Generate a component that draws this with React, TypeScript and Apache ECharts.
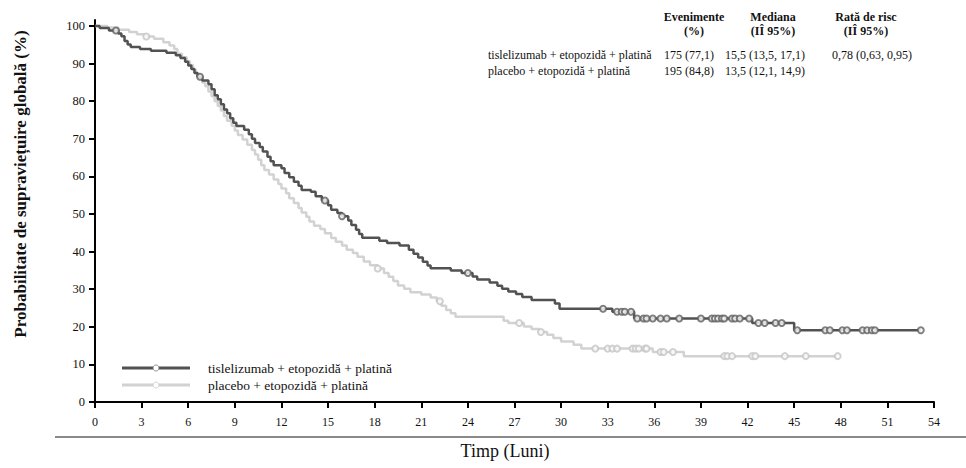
import React, { useEffect, useRef } from "react";
import * as echarts from "echarts";

// Kaplan-Meier step points: time in months, overall survival probability in %
const tisTime = [0, 0.3, 0.9, 1.5, 1.7, 1.9, 2.1, 2.3, 2.9, 3.6, 4.6, 5.2, 5.5, 5.8, 6.0, 6.2, 6.4, 6.6, 6.9, 7.3, 7.5, 7.7, 7.9, 8.1, 8.3, 8.5, 8.7, 8.9, 9.1, 9.6, 9.9, 10.1, 10.3, 10.6, 10.8, 11.1, 11.3, 11.5, 12.0, 12.2, 12.5, 12.8, 13.1, 13.3, 13.9, 14.2, 14.6, 15.0, 15.2, 15.6, 15.9, 16.3, 16.5, 16.8, 17.0, 17.2, 18.3, 18.8, 19.6, 20.2, 20.5, 20.8, 21.1, 21.4, 21.6, 22.9, 23.6, 24.3, 24.6, 25.4, 25.9, 26.2, 26.6, 27.1, 27.5, 28.1, 29.6, 29.9, 33.3, 34.7, 42.3, 45.0];
const tisSurv = [100, 99.5, 98.8, 98.0, 97.3, 96.0, 95.1, 94.4, 93.9, 93.4, 92.9, 92.2, 91.5, 90.5, 89.5, 88.6, 87.5, 86.5, 85.5, 84.5, 83.2, 81.6, 80.5, 79.2, 77.8, 76.8, 75.5, 74.3, 73.4, 72.4, 71.2, 70.0, 68.9, 67.8, 66.6, 65.2, 64.0, 63.0, 62.2, 60.9, 59.8, 58.6, 57.5, 56.4, 55.9, 54.7, 53.6, 52.3, 51.1, 50.3, 49.4, 48.3, 47.1, 45.8, 44.7, 43.7, 42.9, 42.3, 41.6, 40.5, 39.4, 38.4, 37.3, 36.3, 35.6, 35.0, 34.3, 33.4, 32.6, 31.8, 30.9, 30.1, 29.4, 28.7, 27.9, 27.1, 26.2, 24.8, 24.0, 22.2, 21.0, 19.1];
const tisCensor = [1.35, 6.76, 14.8, 15.9, 24.0, 32.7, 33.6, 33.9, 34.1, 34.5, 34.9, 35.3, 35.5, 35.9, 36.4, 36.8, 37.6, 39.0, 39.7, 39.9, 40.1, 40.35, 40.5, 41.0, 41.2, 41.5, 42.1, 42.7, 43.1, 43.8, 44.2, 45.2, 47.0, 47.3, 48.1, 48.4, 49.4, 49.7, 50.0, 50.2, 53.15];

const plaTime = [0, 0.8, 1.5, 2.2, 2.7, 3.2, 3.8, 4.4, 4.8, 5.1, 5.3, 5.6, 5.9, 6.1, 6.3, 6.5, 6.7, 6.9, 7.1, 7.3, 7.5, 7.7, 7.9, 8.1, 8.3, 8.5, 8.8, 9.0, 9.2, 9.5, 9.8, 10.1, 10.3, 10.5, 10.7, 10.9, 11.2, 11.5, 11.8, 12.0, 12.3, 12.5, 12.8, 13.1, 13.3, 13.6, 13.8, 14.1, 14.5, 14.8, 15.2, 15.5, 15.9, 16.2, 16.6, 16.9, 17.3, 17.7, 18.2, 18.6, 18.9, 19.2, 19.5, 19.9, 20.3, 21.0, 21.6, 22.0, 22.3, 22.6, 22.9, 23.2, 26.3, 26.6, 27.6, 28.1, 28.6, 29.1, 29.5, 30.0, 30.8, 31.3, 35.9, 37.9];
const plaSurv = [100, 99.6, 99.0, 98.4, 97.8, 97.2, 96.6, 95.7, 94.8, 93.9, 92.6, 91.7, 90.6, 89.6, 88.4, 87.4, 86.2, 85.0, 84.0, 82.6, 81.3, 80.0, 78.7, 77.5, 76.1, 74.8, 73.5, 72.2, 71.0, 69.8, 68.4, 67.0, 65.8, 64.4, 63.0, 61.7, 60.5, 59.2, 58.0, 56.8, 55.5, 54.2, 52.9, 51.6, 50.4, 49.3, 48.0, 46.9, 46.0, 44.9, 43.6, 42.6, 41.6, 40.5, 39.6, 38.6, 37.4, 36.4, 35.5, 34.3, 33.3, 32.2, 31.0, 30.1, 29.2, 28.6, 27.8, 26.8, 25.6, 24.5, 23.6, 22.7, 21.6, 21.0, 20.1, 19.4, 18.6, 17.9, 17.0, 16.1, 15.2, 14.2, 13.3, 12.2];
const plaCensor = [3.3, 18.2, 22.2, 27.3, 28.7, 32.2, 33.0, 33.3, 33.6, 34.6, 34.8, 35.0, 35.4, 35.5, 36.4, 36.6, 37.2, 40.5, 40.7, 41.0, 42.3, 42.5, 44.4, 45.75, 47.8];

const xTicks = [0, 3, 6, 9, 12, 15, 18, 21, 24, 27, 30, 33, 36, 39, 42, 45, 48, 51, 54];
const yTicks = [0, 10, 20, 30, 40, 50, 60, 70, 80, 90, 100];

const armNames = ["tislelizumab + etopozidă + platină", "placebo + etopozidă + platină"];
const tableHeads = [["Evenimente", "(%)"], ["Mediana", "(IÎ 95%)"], ["Rată de risc", "(IÎ 95%)"]];
const tableRows = [
  ["175 (77,1)", "15,5 (13,5, 17,1)", "0,78 (0,63, 0,95)"],
  ["195 (84,8)", "13,5 (12,1, 14,9)", ""],
];

const DARK = "#525252";
const LIGHT = "#d2d2d2";
const SERIF = "'Liberation Serif', 'Times New Roman', serif";

function survAt(times: number[], surv: number[], t: number): number {
  let s = surv[0];
  for (let i = 0; i < times.length; i++) {
    if (times[i] <= t) s = surv[i];
  }
  return s;
}

function stepLine(times: number[], surv: number[], censor: number[]) {
  const pts = times.map((t, i) => [t, surv[i]]);
  const end = Math.max(times[times.length - 1], ...censor);
  pts.push([end, surv[surv.length - 1]]);
  return pts;
}

function censorPts(times: number[], surv: number[], censor: number[]) {
  return censor.map((t) => [t, survAt(times, surv, t)]);
}

export default function App() {
  const ref = useRef<HTMLDivElement>(null);

  useEffect(() => {
    if (!ref.current) return;
    const chart = echarts.init(ref.current, null, { renderer: "svg" });

    const legendItems: any[] = [];
    [DARK, LIGHT].forEach((c, i) => {
      const y = 368 + i * 17;
      legendItems.push(
        { type: "line", shape: { x1: 122, y1: y, x2: 190, y2: y }, style: { stroke: c, lineWidth: 3 } },
        { type: "circle", shape: { cx: 156, cy: y, r: 3 }, style: { fill: "#fff", stroke: i === 0 ? "#777" : "#cacaca", lineWidth: 0.8 } },
        { type: "text", x: 208, y, style: { text: armNames[i], font: `13.5px ${SERIF}`, fill: "#111", textVerticalAlign: "middle" } }
      );
    });

    const headX = [694, 773, 866];
    const tableItems: any[] = [];
    tableHeads.forEach((h, i) => {
      h.forEach((line, j) => {
        tableItems.push({
          type: "text", x: headX[i], y: 17 + j * 14,
          style: { text: line, font: `bold 12px ${SERIF}`, fill: "#111", textAlign: "center", textVerticalAlign: "middle" },
        });
      });
    });
    const colX = [664, 725, 832];
    tableRows.forEach((row, r) => {
      const y = 55 + r * 16;
      tableItems.push({
        type: "text", x: 488, y,
        style: { text: armNames[r], font: `12px ${SERIF}`, fill: "#111", textVerticalAlign: "middle" },
      });
      row.forEach((cell, c) => {
        if (!cell) return;
        tableItems.push({
          type: "text", x: colX[c], y,
          style: { text: cell, font: `12px ${SERIF}`, fill: "#111", textVerticalAlign: "middle" },
        });
      });
    });

    chart.setOption({
      animation: false,
      backgroundColor: "#fff",
      grid: { left: 95, right: 32, top: 20, bottom: 66 },
      xAxis: {
        type: "value",
        min: 0,
        max: 54,
        interval: 3,
        axisLine: { lineStyle: { color: "#000", width: 2 } },
        axisTick: { show: true, length: 6, lineStyle: { color: "#000", width: 2 }, customValues: xTicks },
        axisLabel: { customValues: xTicks, margin: 14, color: "#111", fontFamily: SERIF, fontSize: 12 },
        splitLine: { show: false },
      },
      yAxis: {
        type: "value",
        min: 0,
        max: 101.6,
        axisLine: { show: true, lineStyle: { color: "#000", width: 2 } },
        axisTick: { show: true, length: 6, lineStyle: { color: "#000", width: 2 }, customValues: yTicks },
        axisLabel: { customValues: yTicks, margin: 10, color: "#111", fontFamily: SERIF, fontSize: 12.5 },
        splitLine: { show: false },
      },
      series: [
        {
          name: armNames[1],
          type: "line",
          step: "end",
          showSymbol: false,
          data: stepLine(plaTime, plaSurv, plaCensor),
          lineStyle: { color: LIGHT, width: 2.5 },
          z: 2,
        },
        {
          name: armNames[1] + " cenzurat",
          type: "scatter",
          symbol: "emptyCircle",
          symbolSize: 6,
          data: censorPts(plaTime, plaSurv, plaCensor),
          itemStyle: { color: "#c6c6c6", borderWidth: 0.9 },
          z: 3,
        },
        {
          name: armNames[0],
          type: "line",
          step: "end",
          showSymbol: false,
          data: stepLine(tisTime, tisSurv, tisCensor),
          lineStyle: { color: DARK, width: 2.5 },
          z: 4,
        },
        {
          name: armNames[0] + " cenzurat",
          type: "scatter",
          symbol: "emptyCircle",
          symbolSize: 6,
          data: censorPts(tisTime, tisSurv, tisCensor),
          itemStyle: { color: "#606060", borderWidth: 0.9 },
          z: 5,
        },
      ],
      graphic: [
        {
          type: "text",
          x: 20,
          y: 184,
          rotation: Math.PI / 2,
          style: {
            text: "Probabilitate de supraviețuire globală (%)",
            font: `bold 17px ${SERIF}`,
            fill: "#111",
            textAlign: "center",
            textVerticalAlign: "middle",
          },
        },
        { type: "line", shape: { x1: 55, y1: 437, x2: 966, y2: 437 }, style: { stroke: "#8a8a8a", lineWidth: 2 } },
        {
          type: "text",
          x: 505,
          y: 451,
          style: { text: "Timp (Luni)", font: `18px ${SERIF}`, fill: "#111", textAlign: "center", textVerticalAlign: "middle" },
        },
        ...legendItems,
        ...tableItems,
      ],
    });

    return () => chart.dispose();
  }, []);

  return <div ref={ref} style={{ width: 966, height: 468, position: "absolute", left: 0, top: 0 }} />;
}
